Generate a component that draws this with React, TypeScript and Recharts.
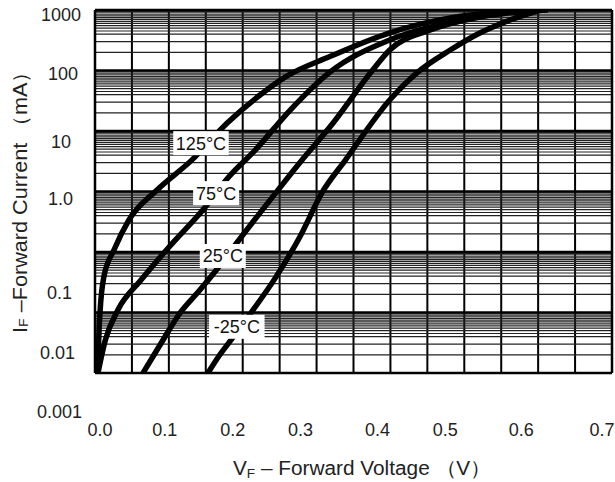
import React from "react";
import {
  LineChart,
  Line,
  XAxis,
  YAxis,
  CartesianGrid,
  ReferenceLine,
  ReferenceDot,
  Label,
} from "recharts";

// x axis (V)
const voltTicks = [0, 0.05, 0.1, 0.15, 0.2, 0.25, 0.3, 0.35, 0.4, 0.45, 0.5, 0.55, 0.6, 0.65, 0.7];
const voltLabels = ["0.0", "0.1", "0.2", "0.3", "0.4", "0.5", "0.6", "0.7"];

// y axis (mA), log
const decades = [0.001, 0.01, 0.1, 1, 10, 100, 1000];
const decadeLabels = ["0.001", "0.01", "0.1", "1.0", "10", "100", "1000"];
const minorSteps = [2, 3, 4, 4.5, 5, 5.5, 6, 6.5, 7, 7.5, 8, 8.5, 9, 9.5];

// curves
const t125V = [0.004, 0.005, 0.007, 0.012, 0.026, 0.046, 0.084, 0.131, 0.179, 0.223, 0.259, 0.318, 0.399, 0.481, 0.548, 0.596];
const t125I = [0.001, 0.0035, 0.011, 0.039, 0.11, 0.34, 1.06, 3.3, 13.6, 39, 80, 170, 420, 740, 930, 1000];

const t75V = [0.004, 0.014, 0.031, 0.062, 0.1, 0.148, 0.181, 0.217, 0.264, 0.318, 0.399, 0.481, 0.562, 0.609];
const t75I = [0.001, 0.0035, 0.011, 0.034, 0.12, 0.53, 1.74, 4.85, 22, 94, 320, 630, 930, 1000];

const t25V = [0.065, 0.088, 0.115, 0.142, 0.164, 0.195, 0.237, 0.28, 0.318, 0.376, 0.399, 0.454, 0.521, 0.589, 0.613];
const t25I = [0.001, 0.0029, 0.0098, 0.0235, 0.05, 0.158, 0.72, 3.3, 11.6, 102, 218, 467, 766, 963, 1000];

const tm25V = [0.153, 0.169, 0.184, 0.211, 0.244, 0.278, 0.307, 0.339, 0.399, 0.437, 0.481, 0.521, 0.562, 0.603];
const tm25I = [0.001, 0.002, 0.0035, 0.0098, 0.037, 0.184, 0.94, 3.3, 32.5, 94, 218, 417, 684, 1000];

const curveNames = ["125°C", "75°C", "25°C", "-25°C"];
const labelV = [0.1435, 0.164, 0.173, 0.192];
const labelI = [6.3, 0.94, 0.086, 0.0058];

const toData = (vs: number[], is: number[]) => vs.map((v, k) => ({ v, i: is[k] }));
const curves = [
  toData(t125V, t125I),
  toData(t75V, t75I),
  toData(t25V, t25I),
  toData(tm25V, tm25I),
];

const gridTicks: number[] = [];
decades.forEach((d, k) => {
  gridTicks.push(d);
  if (k < decades.length - 1) minorSteps.forEach((m) => gridTicks.push(d * m));
});
gridTicks.sort((a, b) => a - b);

const FONT = "'Liberation Sans', Arial, sans-serif";

// the printed labels do not sit exactly on the grid in the original
const yLabelShift: Record<string, [number, number]> = {
  "1000": [0, 5],
  "100": [-3, 3],
  "10": [-10, 11],
  "1.0": [-8, 7],
  "0.1": [-9, 41],
  "0.01": [-6, 40],
  "0.001": [1, 39],
};
const xLabelShift = [5, -4, -10, -16, -13, -19, -17, -10];

const XTick = (props: any) => {
  const { x, y, index } = props;
  if (index % 2 !== 0) return null;
  const n = index / 2;
  return (
    <text x={x + xLabelShift[n]} y={y + 63} textAnchor="middle" fontSize={18} fontFamily={FONT} fill="#222">
      {voltLabels[n]}
    </text>
  );
};

const YTick = (props: any) => {
  const { x, y, payload } = props;
  const k = decades.findIndex((d) => Math.abs(d - payload.value) < d * 1e-6);
  if (k < 0) return null;
  const lbl = decadeLabels[k];
  const [dx, dy] = yLabelShift[lbl];
  return (
    <text x={x - 14 + dx} y={y + dy} dy="0.36em" textAnchor="end" fontSize={18} fontFamily={FONT} fill="#222">
      {lbl}
    </text>
  );
};

const TagBox = (text: string) => (props: any) => {
  const { cx, cy } = props;
  const w = text.length * 9.5 + 8;
  return (
    <g>
      <rect x={cx - w / 2} y={cy - 12} width={w} height={24} fill="#fff" />
      <text x={cx} y={cy} dy="0.36em" textAnchor="middle" fontSize={18} fontFamily={FONT} fill="#111">
        {text}
      </text>
    </g>
  );
};

const XTitle = () => (
  <text
    x={362}
    y={475}
    textAnchor="middle"
    textLength={258}
    lengthAdjust="spacingAndGlyphs"
    fontSize={20}
    fontFamily={FONT}
    fill="#222"
  >
    V<tspan fontSize={13} dy={3}>F</tspan>
    <tspan dy={-3}> – Forward Voltage （V）</tspan>
  </text>
);

const YTitle = () => (
  <text
    x={0}
    y={0}
    transform="translate(20,197) rotate(-90)"
    textAnchor="middle"
    textLength={272}
    lengthAdjust="spacingAndGlyphs"
    dominantBaseline="central"
    fontSize={20}
    fontFamily={FONT}
    fill="#222"
  >
    I<tspan fontSize={13} dy={3}>F</tspan>
    <tspan dy={-3}> –Forward Current  （mA）</tspan>
  </text>
);

export default function App() {
  return (
    <div style={{ position: "absolute", left: 0, top: 0, width: 615, height: 482, background: "#fff" }}>
      <LineChart width={615} height={482} margin={{ top: 10, right: 3, bottom: 0, left: 0 }}>
        <CartesianGrid horizontal={false} stroke="#000" strokeWidth={2} />
        <CartesianGrid vertical={false} stroke="#222" strokeWidth={1.2} />
        <XAxis
          type="number"
          dataKey="v"
          domain={[0, 0.7]}
          ticks={voltTicks}
          interval={0}
          allowDataOverflow
          height={109}
          tickSize={0}
          tickMargin={0}
          axisLine={false}
          tickLine={false}
          tick={<XTick />}
        >
          <Label content={() => <XTitle />} />
        </XAxis>
        <YAxis
          type="number"
          dataKey="i"
          scale="log"
          domain={[0.001, 1000]}
          ticks={gridTicks}
          interval={0}
          allowDataOverflow
          width={95}
          tickSize={0}
          tickMargin={0}
          axisLine={false}
          tickLine={false}
          tick={<YTick />}
        >
          <Label content={() => <YTitle />} />
        </YAxis>
        {decades.map((d) => (
          <ReferenceLine key={d} y={d} stroke="#000" strokeWidth={2.5} />
        ))}
        <ReferenceLine x={0} stroke="#000" strokeWidth={2.5} />
        <ReferenceLine x={0.7} stroke="#000" strokeWidth={2.5} />
        {curves.map((c, k) => (
          <Line
            key={curveNames[k]}
            data={c}
            dataKey="i"
            type="monotone"
            stroke="#000"
            strokeWidth={5.5}
            dot={false}
            activeDot={false}
            isAnimationActive={false}
          />
        ))}
        {curveNames.map((n, k) => (
          <ReferenceDot key={n} x={labelV[k]} y={labelI[k]} r={1} shape={TagBox(n)} />
        ))}
      </LineChart>
    </div>
  );
}
